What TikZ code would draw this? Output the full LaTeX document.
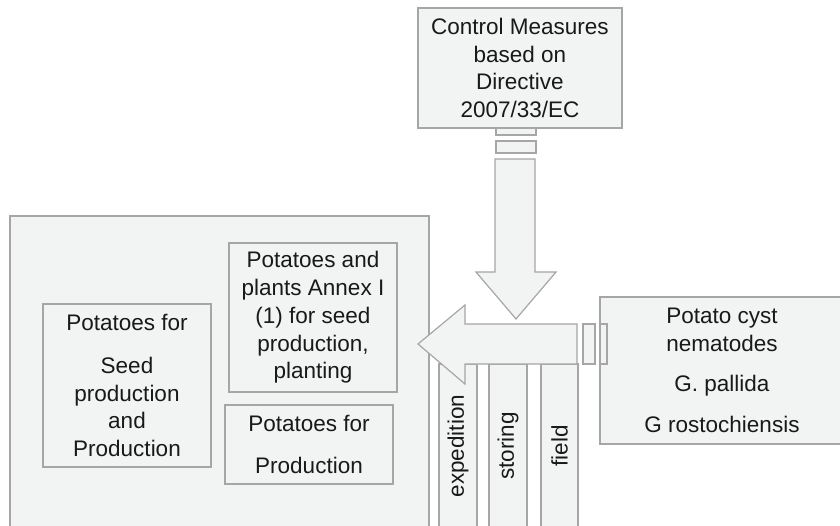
\documentclass[tikz,border=0pt]{standalone}
\usepackage{fontspec}
\setmainfont{Liberation Sans}
\usetikzlibrary{calc}
\definecolor{panelfill}{RGB}{242, 243, 243}
\definecolor{panelline}{RGB}{166, 166, 166}

\begin{document}
\begin{tikzpicture}[x=1pt, y=-1pt,
        every node/.style={font=\fontsize{22.5}{27.7}\selectfont, text=black!90},
        panel/.style={draw=panelline, fill=panelfill, line width=1.2pt, align=center, inner sep=0pt},
        strip/.style={draw=panelline, fill=panelfill, line width=1.2pt},
        bigarrow/.style={draw=panelline, fill=panelfill, line width=1.2pt, line join=miter},
        vlbl/.style={rotate=90, inner sep=0pt}
      ]
        \clip (0,0) rectangle (840,526);
        % outer frame and the three steps
        \draw[strip] (10,216) rectangle (429,560);
        \draw[strip] (439,364) rectangle (477,560);
        \draw[strip] (489,364) rectangle (527,560);
        \draw[strip] (541,364) rectangle (578,560);
        \node[vlbl] (exped) at (458,446) {expedition};
        \node[vlbl] (stor) at (508,446) {storing};
        \node[vlbl] (fld) at (559.5,446) {field};
        % control measures with its arrow
        \node[panel, minimum width=204, minimum height=120] (ctrl) at (520,68)
          {Control Measures\\based on\\Directive\\2007/33/EC};
        \draw[strip] (496,128) rectangle (536,135);
        \draw[strip] (496,141) rectangle (536,153);
        \draw[bigarrow] (495,159) -- (535,159) -- (535,272) -- (556,272) -- (516,319)
          -- (476,272) -- (495,272) -- cycle;
        % nematodes with its arrow
        \node[panel, minimum width=244, minimum height=147] (pcn) at (722,370.5)
          {Potato cyst\\nematodes\\[13pt]G. pallida\\[13pt]G rostochiensis};
        \draw[strip] (583,324) rectangle (595,364);
        \draw[strip] (600,324) rectangle (607,364);
        \draw[bigarrow] (577,324) -- (577,364) -- (465,364) -- (465,384) -- (418,344)
          -- (465,305) -- (465,324) -- cycle;
        % potato groups
        \node[panel, minimum width=168, minimum height=163] (seedprod) at (127,385.5)
          {Potatoes for\\[15pt]Seed\\production\\and\\Production};
        \node[panel, minimum width=168, minimum height=149] (annex) at (313,317.5)
          {Potatoes and\\plants Annex I\\(1) for seed\\production,\\planting};
        \node[panel, minimum width=168, minimum height=79] (prod) at (309,444.5)
          {Potatoes for\\[14pt]Production};
      \end{tikzpicture}
\end{document}
